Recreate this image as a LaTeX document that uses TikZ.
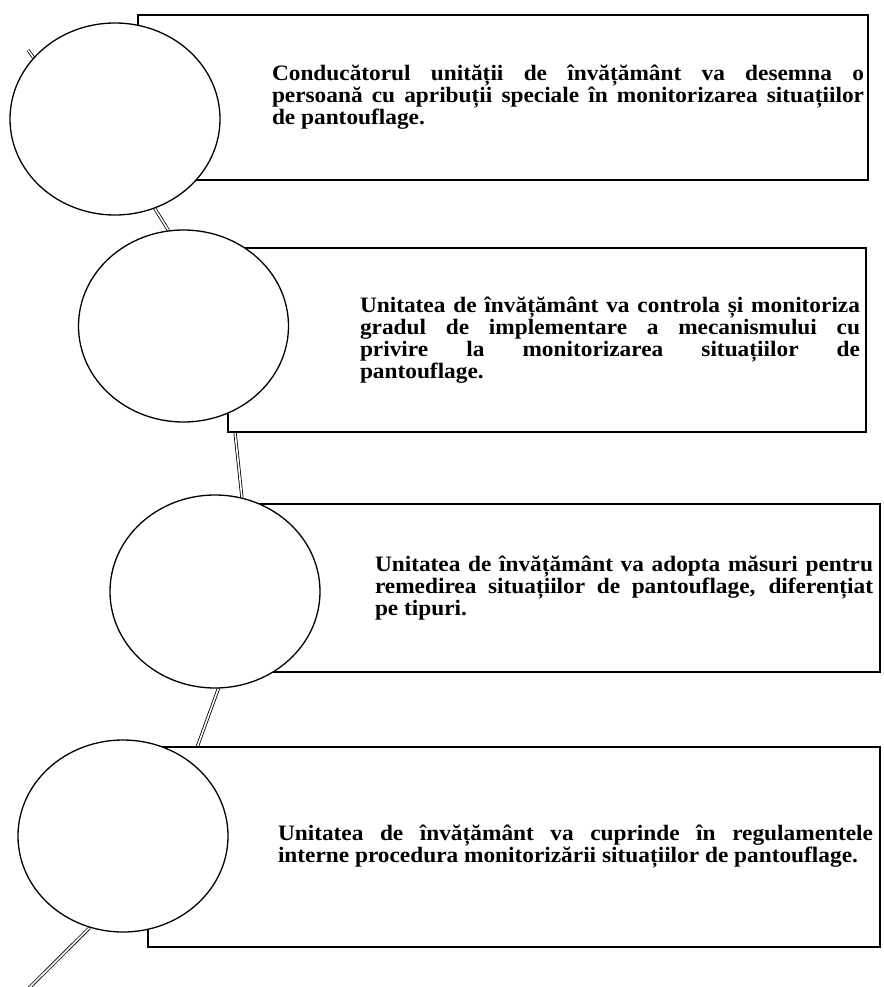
\documentclass[tikz,border=0pt]{standalone}
\usepackage{fontspec}
\setmainfont{Liberation Serif}[FakeStretch=1.06]
\usetikzlibrary{shapes.geometric,backgrounds}

\begin{document}
\begin{tikzpicture}[x=1pt,y=-1pt,
	box/.style={draw,fill=white,line width=1.3pt,inner sep=0pt},
	ring/.style={ellipse,draw,fill=white,line width=1.3pt,minimum width=210pt,minimum height=192pt,inner sep=0pt},
	txt/.style={inner sep=0pt,align=justify,font=\fontsize{22pt}{22pt}\selectfont\bfseries},
	spine/.style={line width=0.8pt,double=white,double distance=1.6pt}]
	\useasboundingbox (0,0) rectangle (883,987);
	\node[box,minimum width=730pt,minimum height=165pt] (b1) at (503,97.5) {};
	\node[box,minimum width=638pt,minimum height=184pt] (b2) at (547,340) {};
	\node[box,minimum width=630pt,minimum height=168pt] (b3) at (565,588) {};
	\node[box,minimum width=732pt,minimum height=200pt] (b4) at (514,847) {};
	\node[txt,text width=592pt] (t1) at (568,97.5) {Conducătorul unității de învățământ va desemna o\linebreak persoană cu apribuții speciale în monitorizarea situațiilor\linebreak de pantouflage.};
	\node[txt,text width=500pt] (t2) at (610,340) {Unitatea de învățământ va controla și monitoriza\linebreak gradul de implementare a mecanismului cu\linebreak privire la monitorizarea situațiilor de\linebreak pantouflage.};
	\node[txt,text width=498pt] (t3) at (624,588) {Unitatea de învățământ va adopta măsuri pentru\linebreak remedirea situațiilor de pantouflage, diferențiat\linebreak pe tipuri.};
	\node[txt,text width=595pt] (t4) at (575.5,847) {Unitatea de învățământ va cuprinde în regulamentele\linebreak interne procedura monitorizării situațiilor de pantouflage.};
	\node[ring] (c1) at (115,119) {};
	\node[ring] (c2) at (183.5,326) {};
	\node[ring,minimum height=193pt] (c3) at (215,591.5) {};
	\node[ring] (c4) at (123,836) {};
	\coordinate (stub) at (28,50);
	\coordinate (tail) at (18,999);
	\begin{scope}[on background layer]
		\draw[spine] (c1.143) -- (stub);
		\draw[spine] (c1.-66) -- (c2.99);
		\draw[spine] (c2.-60) -- (c3.74);
		\draw[spine] (c3.-88) -- (c4.47);
		\draw[spine] (c4.-110) -- (tail);
	\end{scope}
\end{tikzpicture}
\end{document}
